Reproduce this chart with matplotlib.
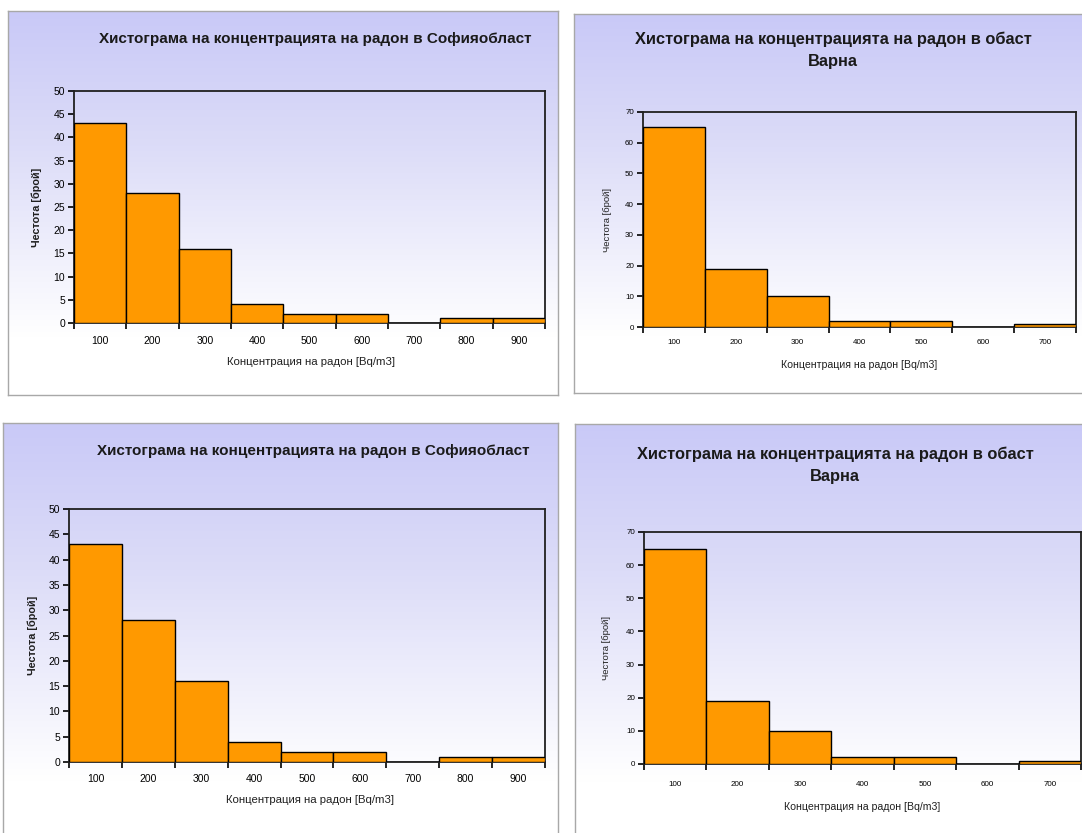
import numpy as np
import matplotlib
matplotlib.use("Agg")
import matplotlib.pyplot as plt
from matplotlib.colors import LinearSegmentedColormap

plt.rcParams['font.family'] = ['Liberation Sans', 'DejaVu Sans']

# ---------------- data ----------------
sofia_bins = [100, 200, 300, 400, 500, 600, 700, 800, 900]
sofia_counts = [43, 28, 16, 4, 2, 2, 0, 1, 1]
varna_bins = [100, 200, 300, 400, 500, 600, 700]
varna_counts = [65, 19, 10, 2, 2, 0, 1]

sofia_title = "Хистограма на концентрацията на радон в Софияобласт"
varna_title = "Хистограма на концентрацията на радон в обаст\nВарна"
ylabel_text = "Честота [брой]"
xlabel_text = "Концентрация на радон [Bq/m3]"
sofia_yticks = [0, 5, 10, 15, 20, 25, 30, 35, 40, 45, 50]
varna_yticks = [0, 10, 20, 30, 40, 50, 60, 70]

W, H = 1082, 833
fig = plt.figure(figsize=(W / 100, H / 100), dpi=100)
fig.patch.set_facecolor('white')

def rect(x0, y0, x1, y1):
    return [x0 / W, 1 - y1 / H, (x1 - x0) / W, (y1 - y0) / H]

grad = LinearSegmentedColormap.from_list(
    'g', [(0.0, '#C9C9F7'), (0.35, '#DCDCF8'), (0.85, '#FFFFFF'), (1.0, '#FFFFFF')])

def frame(x0, y0, x1, y1):
    bg = fig.add_axes(rect(x0, y0, x1, y1), zorder=0)
    g = np.linspace(0, 1, 256).reshape(-1, 1)
    bg.imshow(g, aspect='auto', cmap=grad, extent=[0, 1, 0, 1], origin='upper')
    bg.set_xlim(0, 1); bg.set_ylim(0, 1)
    bg.set_xticks([]); bg.set_yticks([])
    for s in bg.spines.values():
        s.set_color('#A8A8A8'); s.set_linewidth(1.0)
    return bg

def hist_panel(box, bins, counts, yticks, tick_fs, xlab_fs, ylab_fs, xpad, ylab_pos, xlab_pos, ylab_bold):
    ax = fig.add_axes(rect(*box), zorder=2)
    ax.set_facecolor('none')
    ax.bar(bins, counts, width=100, color='#FF9900', edgecolor='black', linewidth=1.0, zorder=3)
    ax.set_xlim(bins[0] - 50, bins[-1] + 50)
    ax.set_ylim(yticks[0], yticks[-1])
    ax.set_yticks(yticks)
    ax.set_yticklabels([str(v) for v in yticks], fontsize=tick_fs)
    edges = [b - 50 for b in bins] + [bins[-1] + 50]
    ax.set_xticks(edges)
    ax.set_xticklabels([''] * len(edges))
    ax.set_xticks(bins, minor=True)
    ax.set_xticklabels([str(b) for b in bins], minor=True, fontsize=tick_fs)
    ax.tick_params(axis='x', which='major', direction='out', length=4, width=1.2)
    ax.tick_params(axis='x', which='minor', length=0, pad=xpad)
    ax.tick_params(axis='y', direction='out', length=4.5, width=1.2, pad=2)
    for s in ax.spines.values():
        s.set_linewidth(1.3); s.set_color('#202020')
    ax.set_xlabel(xlabel_text, fontsize=xlab_fs, color='#202020')
    ax.set_ylabel(ylabel_text, fontsize=ylab_fs, color='#202020',
                  fontweight='bold' if ylab_bold else 'normal')
    ax.xaxis.set_label_coords(*xlab_pos)
    ax.xaxis.label.set_va('center')
    ax.yaxis.set_label_coords(*ylab_pos)
    ax.yaxis.label.set_va('center')
    return ax

# frames
frame(8, 11, 558, 395)
frame(574, 14, 1092, 393)
frame(3, 423, 558, 845)
frame(575, 424, 1092, 845)

# panels
hist_panel((74, 91, 545, 323), sofia_bins, sofia_counts, sofia_yticks, 7.5, 8.2, 7.8, 9,
           (-0.079, 0.5), (0.503, -0.168), True)
hist_panel((643, 112, 1076, 327), varna_bins, varna_counts, varna_yticks, 5.8, 7.6, 6.8, 9,
           (-0.083, 0.5), (0.50, -0.177), False)
hist_panel((69, 509, 545, 762), sofia_bins, sofia_counts, sofia_yticks, 7.5, 8.2, 7.8, 9,
           (-0.076, 0.5), (0.506, -0.150), True)
hist_panel((644, 532, 1081, 764), varna_bins, varna_counts, varna_yticks, 5.8, 7.6, 6.8, 12,
           (-0.085, 0.5), (0.50, -0.185), False)

def ptext(x, y, s, **kw):
    fig.text(x / W, 1 - y / H, s, ha='center', va='center', **kw)

ptext(315, 39, sofia_title, fontsize=11, fontweight='bold', color='#1A1A1A')
ptext(833, 50, varna_title, fontsize=11.8, fontweight='bold', color='#1A1A1A', linespacing=1.55)
ptext(313, 451, sofia_title, fontsize=11, fontweight='bold', color='#1A1A1A')
ptext(835, 465, varna_title, fontsize=11.8, fontweight='bold', color='#1A1A1A', linespacing=1.55)

fig.savefig('out.png', dpi=100)
